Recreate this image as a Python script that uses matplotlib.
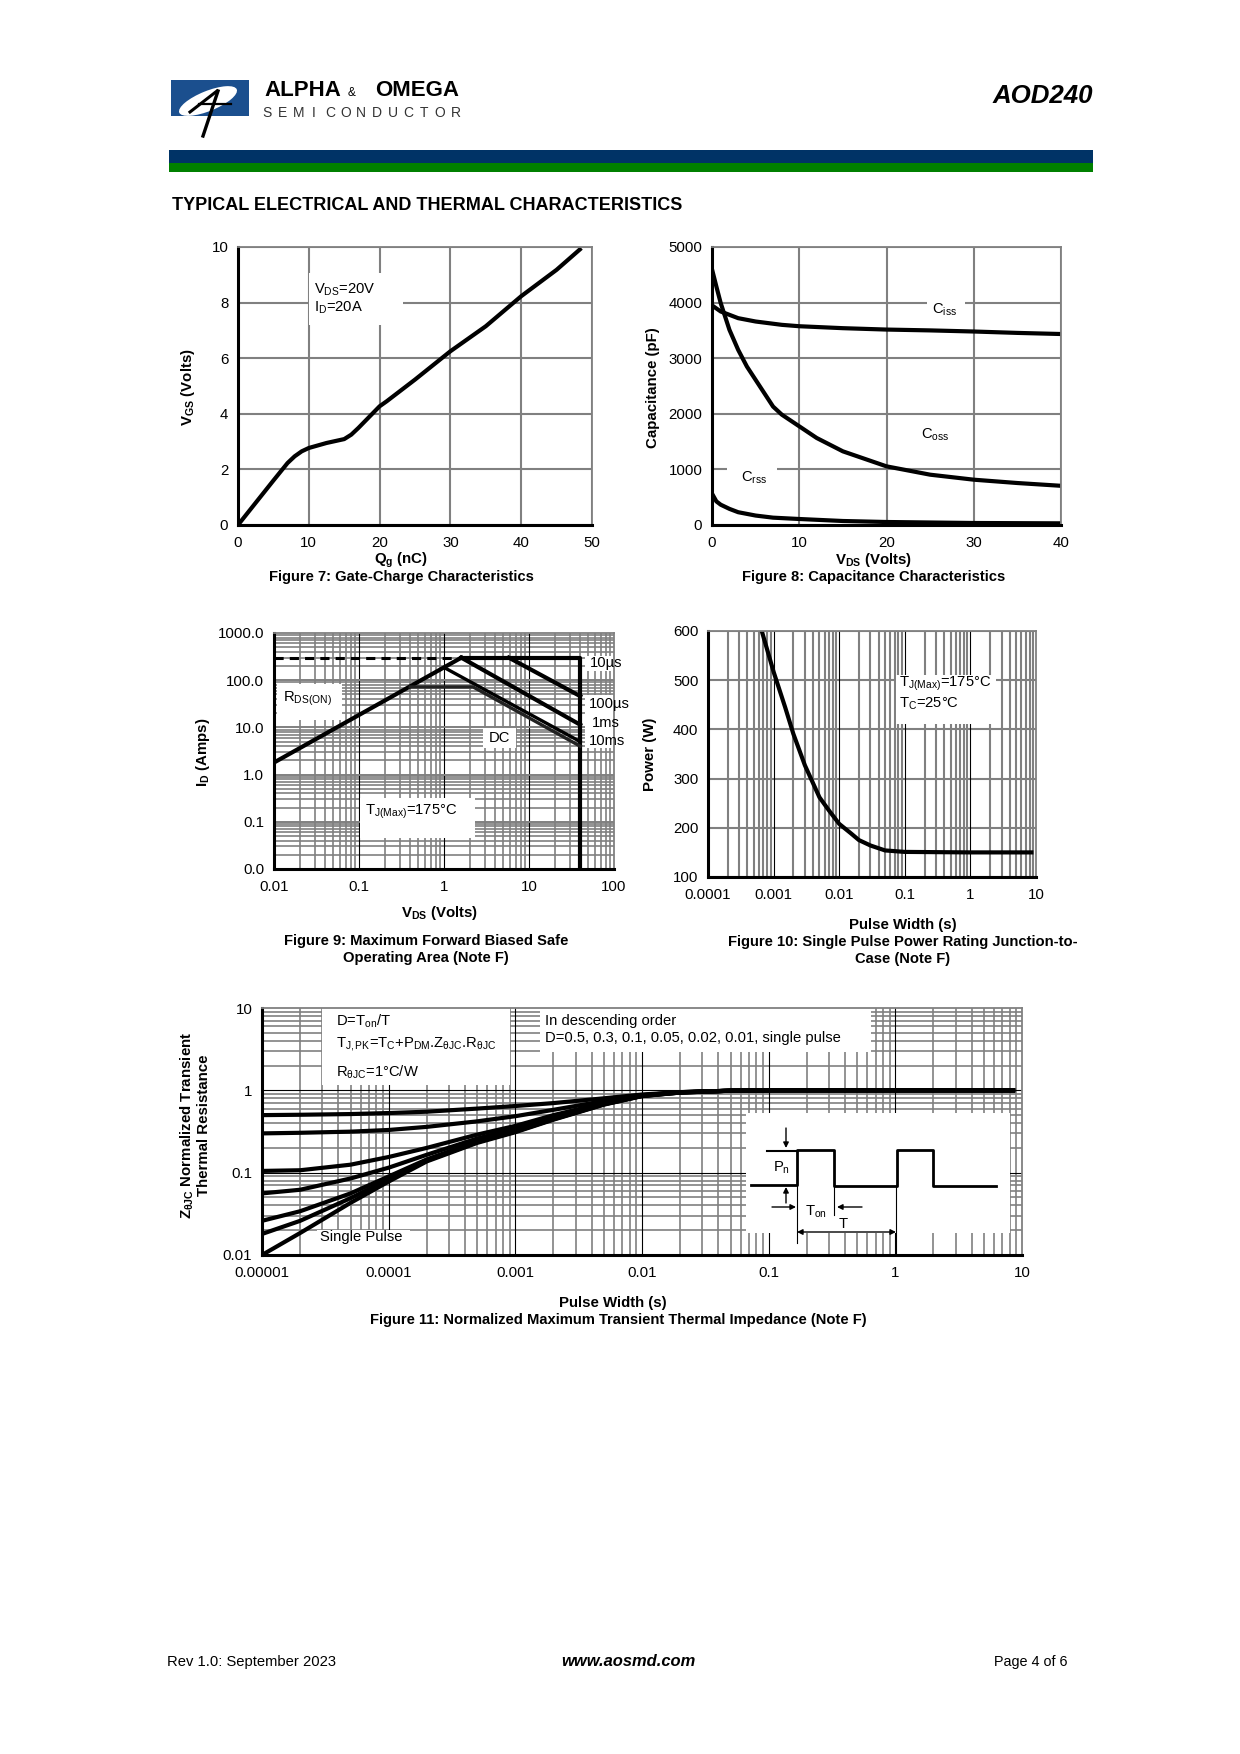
import numpy as np
import matplotlib
matplotlib.use('Agg')
import matplotlib.pyplot as plt
from matplotlib.patches import Rectangle, Ellipse
from matplotlib.ticker import NullFormatter, NullLocator

plt.rcParams['font.family'] = ['Liberation Sans', 'DejaVu Sans']
plt.rcParams['mathtext.fontset'] = 'custom'
plt.rcParams['mathtext.rm'] = 'Liberation Sans'
plt.rcParams['mathtext.it'] = 'Liberation Sans:italic'
plt.rcParams['mathtext.bf'] = 'Liberation Sans:bold'

# ---------------- data ----------------
# Figure 7: gate charge
qg = [0, 2, 5, 7, 8, 9, 10, 12.5, 15, 16, 17, 20, 21, 25, 30, 35, 40, 45, 48.5]
vgs = [0, 0.64, 1.6, 2.23, 2.47, 2.65, 2.77, 2.95, 3.09, 3.25, 3.49, 4.27, 4.45, 5.23, 6.25, 7.15, 8.23, 9.18, 9.96]

# Figure 8: capacitance
ciss_v = [0, 1, 3, 5, 8, 10, 15, 20, 25, 30, 35, 40]
ciss = [3950, 3840, 3720, 3660, 3600, 3575, 3540, 3515, 3500, 3480, 3455, 3435]
coss_v = [0, 0.5, 1, 2, 3, 4, 5, 6, 7, 8, 10, 12, 15, 20, 25, 30, 35, 40]
coss = [4600, 4290, 3990, 3510, 3150, 2850, 2610, 2370, 2130, 1985, 1775, 1565, 1325, 1055, 905, 815, 755, 705]
crss_v = [0, 0.5, 1, 2, 3, 5, 7, 10, 15, 20, 30, 40]
crss = [565, 425, 365, 290, 230, 170, 132, 108, 72, 54, 36, 30]

# Figure 9: safe operating area
rds_v = [0.01, 1.6]
rds_i = [1.8, 300]
ilim_v = [0.01, 1.6]
ilim_i = [300, 300]
us10_v = [1.6, 40, 40]
us10_i = [300, 300, 0.01]
us100_v = [5.8, 40]
us100_i = [300, 46]
ms1_v = [1.6, 40]
ms1_i = [300, 11.4]
ms10_v = [1.03, 40]
ms10_i = [181, 5.0]
dc_v = [0.4, 2.2, 40]
dc_i = [72, 72, 4.0]

# Figure 10: single pulse power
pw = [6.6e-4, 1e-3, 1.5e-3, 2e-3, 3e-3, 5e-3, 7e-3, 1e-2, 1.5e-2, 2e-2, 3e-2, 5e-2, 0.1, 1, 8.5]
ppk = [600, 517, 445, 391, 327, 262, 235, 208, 189, 175, 164, 154, 151, 150, 150]

# Figure 11: transient thermal impedance
zt = [1e-5, 2e-5, 5e-5, 1e-4, 2e-4, 5e-4, 1e-3, 2e-3, 5e-3, 1e-2, 2e-2, 5e-2, 0.1, 1, 8.5]
z_d05 = [0.50, 0.505, 0.515, 0.53, 0.55, 0.60, 0.645, 0.70, 0.80, 0.89, 0.95, 0.99, 1.0, 1.0, 1.0]
z_d03 = [0.30, 0.305, 0.315, 0.33, 0.36, 0.42, 0.485, 0.58, 0.74, 0.87, 0.95, 0.99, 1.0, 1.0, 1.0]
z_d01 = [0.105, 0.107, 0.125, 0.155, 0.20, 0.29, 0.37, 0.50, 0.70, 0.87, 0.95, 0.99, 1.0, 1.0, 1.0]
z_d005 = [0.056, 0.062, 0.085, 0.115, 0.165, 0.26, 0.34, 0.47, 0.69, 0.86, 0.945, 0.99, 1.0, 1.0, 1.0]
z_d002 = [0.026, 0.034, 0.056, 0.09, 0.145, 0.24, 0.32, 0.45, 0.68, 0.855, 0.94, 0.99, 1.0, 1.0, 1.0]
z_d001 = [0.018, 0.026, 0.049, 0.083, 0.14, 0.235, 0.315, 0.445, 0.675, 0.855, 0.94, 0.99, 1.0, 1.0, 1.0]
z_single = [0.010, 0.0185, 0.043, 0.078, 0.137, 0.23, 0.31, 0.44, 0.67, 0.85, 0.94, 0.99, 1.0, 1.0, 1.0]
z_curves = [z_d05, z_d03, z_d01, z_d005, z_d002, z_d001, z_single]

# ---------------- page layout ----------------
W, H = 1240, 1754
fig = plt.figure(figsize=(W / 100, H / 100), dpi=100)
GRAY = '#808080'
FS = 10.8      # tick labels and axis labels
TS = 10.6      # text inside the plots
CS = 10.6      # captions
LW = 3.0


def ax_at(l, t, r, b):
    return fig.add_axes([l / W, 1 - b / H, (r - l) / W, (b - t) / H])


def style(ax, xpad=8, ypad=7):
    ax.set_axisbelow(True)
    for s in ['top', 'right']:
        ax.spines[s].set_color(GRAY)
        ax.spines[s].set_linewidth(1.3)
    for s in ['left', 'bottom']:
        ax.spines[s].set_color('black')
        ax.spines[s].set_linewidth(2.2)
    ax.tick_params(which='both', length=0, labelsize=FS)
    ax.tick_params(axis='x', pad=xpad)
    ax.tick_params(axis='y', pad=ypad)


def white_box(ax, x0, x1, y0, y1):
    ax.add_patch(Rectangle((x0, y0), x1 - x0, y1 - y0, facecolor='white',
                           edgecolor='none', zorder=1.5, clip_on=False))


def log_grid(ax, axis, lo, hi, major_color, major_lw, minor_lw=1.2):
    decs = range(int(np.floor(np.log10(lo))), int(np.ceil(np.log10(hi))))
    minors = [m * 10.0 ** d for d in decs for m in range(2, 10)]
    majors = [10.0 ** d for d in range(int(np.log10(lo)) + 1, int(np.log10(hi)))]
    line = ax.axvline if axis == 'x' else ax.axhline
    for v in minors:
        line(v, color=GRAY, lw=minor_lw, zorder=0.5)
    for v in majors:
        line(v, color=major_color, lw=major_lw, zorder=0.6)


# ---------- Figure 7 ----------
ax7 = ax_at(238, 247, 592, 525)
style(ax7)
ax7.set_xlim(0, 50)
ax7.set_ylim(0, 10)
ax7.set_xticks([0, 10, 20, 30, 40, 50])
ax7.set_yticks([0, 2, 4, 6, 8, 10])
ax7.grid(True, color=GRAY, lw=1.5)
ax7.plot(qg, vgs, color='black', lw=LW, solid_capstyle='butt')
white_box(ax7, 9.96, 23.3, 7.2, 9.06)
ax7.text(10.7, 8.47, r'V$_{\rm DS}$=20V', fontsize=TS, va='center', zorder=3)
ax7.text(10.7, 7.8, r'I$_{\rm D}$=20A', fontsize=TS, va='center', zorder=3)

# ---------- Figure 8 ----------
ax8 = ax_at(712, 247, 1061, 525)
style(ax8)
ax8.set_xlim(0, 40)
ax8.set_ylim(0, 5000)
ax8.set_xticks([0, 10, 20, 30, 40])
ax8.set_yticks([0, 1000, 2000, 3000, 4000, 5000])
ax8.grid(True, color=GRAY, lw=1.5)
ax8.plot(ciss_v, ciss, color='black', lw=LW)
ax8.plot(coss_v, coss, color='black', lw=LW)
ax8.plot(crss_v, crss, color='black', lw=LW)
white_box(ax8, 24.6, 29.0, 3663, 4143)
white_box(ax8, 1.7, 7.4, 515, 1115)
ax8.text(25.2, 3873, r'C$_{\rm iss}$', fontsize=TS, va='center', zorder=3)
ax8.text(24.0, 1625, r'C$_{\rm oss}$', fontsize=TS, va='center', zorder=3)
ax8.text(3.36, 845, r'C$_{\rm rss}$', fontsize=TS, va='center', zorder=3)

# ---------- Figure 9 ----------
ax9 = ax_at(274, 633, 614, 869)
style(ax9)
ax9.set_xscale('log')
ax9.set_yscale('log')
ax9.set_xlim(0.01, 100)
ax9.set_ylim(0.01, 1000)
for a in (ax9.xaxis, ax9.yaxis):
    a.set_minor_locator(NullLocator())
    a.set_minor_formatter(NullFormatter())
ax9.set_xticks([0.01, 0.1, 1, 10, 100])
ax9.set_xticklabels(['0.01', '0.1', '1', '10', '100'])
ax9.set_yticks([0.01, 0.1, 1, 10, 100, 1000])
ax9.set_yticklabels(['0.0', '0.1', '1.0', '10.0', '100.0', '1000.0'])
log_grid(ax9, 'x', 0.01, 100, 'black', 0.8)
log_grid(ax9, 'y', 0.01, 1000, GRAY, 1.4)
ax9.plot(rds_v, rds_i, color='black', lw=LW)
ax9.plot(ilim_v, ilim_i, color='black', lw=2.2, ls=(0, (3, 2)))
ax9.plot(us10_v, us10_i, color='black', lw=LW)
ax9.plot(us100_v, us100_i, color='black', lw=LW)
ax9.plot(ms1_v, ms1_i, color='black', lw=LW)
ax9.plot(ms10_v, ms10_i, color='black', lw=2.4)
ax9.plot(dc_v, dc_i, color='#222222', lw=2.4)
white_box(ax9, 0.0109, 0.0625, 14.5, 84)
white_box(ax9, 2.88, 7.1, 3.6, 9.6)
white_box(ax9, 0.104, 2.3, 0.0447, 0.316)
white_box(ax9, 45, 125, 154, 320)
white_box(ax9, 45.2, 140, 3.6, 49)
ax9.text(0.0129, 39.8, r'R$_{\rm DS(ON)}$', fontsize=TS, va='center', zorder=3)
ax9.text(4.5, 6.0, 'DC', fontsize=TS, va='center', ha='center', zorder=3)
ax9.text(0.118, 0.164, r'T$_{\rm J(Max)}$=175°C', fontsize=TS, va='center', zorder=3)
ax9.text(52.7, 231, '10µs', fontsize=TS, va='center', zorder=3, clip_on=False)
ax9.text(50, 31.2, '100µs', fontsize=TS, va='center', zorder=3, clip_on=False)
ax9.text(54.5, 12.3, '1ms', fontsize=TS, va='center', zorder=3, clip_on=False)
ax9.text(50, 5.2, '10ms', fontsize=TS, va='center', zorder=3, clip_on=False)

# ---------- Figure 10 ----------
ax10 = ax_at(708, 631, 1036, 877)
style(ax10)
ax10.set_xscale('log')
ax10.set_xlim(1e-4, 10)
ax10.set_ylim(100, 600)
ax10.xaxis.set_minor_locator(NullLocator())
ax10.xaxis.set_minor_formatter(NullFormatter())
ax10.set_xticks([1e-4, 1e-3, 1e-2, 0.1, 1, 10])
ax10.set_xticklabels(['0.0001', '0.001', '0.01', '0.1', '1', '10'])
ax10.set_yticks([100, 200, 300, 400, 500, 600])
ax10.yaxis.grid(True, color=GRAY, lw=1.5)
log_grid(ax10, 'x', 1e-4, 10, 'black', 0.8, minor_lw=1.5)
ax10.plot(pw, ppk, color='black', lw=LW)
white_box(ax10, 0.0729, 2.49, 411.6, 509.9)
ax10.text(0.0819, 493, r'T$_{\rm J(Max)}$=175°C', fontsize=TS, va='center', zorder=3)
ax10.text(0.0819, 452, r'T$_{\rm C}$=25°C', fontsize=TS, va='center', zorder=3)

# ---------- Figure 11 ----------
ax11 = ax_at(262, 1008, 1022, 1255)
style(ax11)
ax11.set_xscale('log')
ax11.set_yscale('log')
ax11.set_xlim(1e-5, 10)
ax11.set_ylim(0.01, 10)
for a in (ax11.xaxis, ax11.yaxis):
    a.set_minor_locator(NullLocator())
    a.set_minor_formatter(NullFormatter())
ax11.set_xticks([1e-5, 1e-4, 1e-3, 1e-2, 0.1, 1, 10])
ax11.set_xticklabels(['0.00001', '0.0001', '0.001', '0.01', '0.1', '1', '10'])
ax11.set_yticks([0.01, 0.1, 1, 10])
ax11.set_yticklabels(['0.01', '0.1', '1', '10'])
log_grid(ax11, 'x', 1e-5, 10, 'black', 0.8)
log_grid(ax11, 'y', 0.01, 10, 'black', 0.8)
for z in z_curves:
    ax11.plot(zt, z, color='black', lw=LW)
white_box(ax11, 2.96e-5, 9.04e-4, 1.17, 10)
white_box(ax11, 1.58e-3, 0.645, 2.94, 10)
white_box(ax11, 2.73e-5, 1.47e-4, 0.01, 0.0203)
white_box(ax11, 0.066, 8.05, 0.0186, 0.534)
ax11.text(3.87e-5, 6.89, r'D=T$_{\rm on}$/T', fontsize=TS, va='center', zorder=3)
ax11.text(3.87e-5, 3.65, r'T$_{\rm J,PK}$=T$_{\rm C}$+P$_{\rm DM}$.Z$_{\rm \theta JC}$.R$_{\rm \theta JC}$',
          fontsize=TS, va='center', zorder=3)
ax11.text(3.87e-5, 1.65, r'R$_{\rm \theta JC}$=1°C/W', fontsize=TS, va='center', zorder=3)
ax11.text(1.73e-3, 7.0, 'In descending order', fontsize=TS, va='center', zorder=3)
ax11.text(1.73e-3, 4.32, 'D=0.5, 0.3, 0.1, 0.05, 0.02, 0.01, single pulse', fontsize=TS,
          va='center', zorder=3)
ax11.text(2.87e-5, 0.0164, 'Single Pulse', fontsize=TS, va='center', zorder=3)

# ---------------- overlay for page decorations ----------------
ov = fig.add_axes([0, 0, 1, 1])
ov.set_xlim(0, W)
ov.set_ylim(H, 0)
ov.axis('off')
ov.patch.set_alpha(0)

# logo
ov.add_patch(Rectangle((171, 80), 78, 36, facecolor='#1b4f8e', edgecolor='none'))
ov.add_patch(Ellipse((208, 101), 62, 20, angle=-22, facecolor='white', edgecolor='none'))
ov.plot([190, 217], [112, 91], color='black', lw=2.2)
ov.plot([218, 203], [91, 136], color='black', lw=2.4)
ov.plot([199, 231], [104, 104], color='black', lw=1.6)
ov.text(264, 96, 'ALPHA', fontsize=16, fontweight='bold', va='baseline')
ov.text(352, 96, '&', fontsize=8.5, va='baseline', ha='center')
ov.text(459, 96, 'OMEGA', fontsize=16, fontweight='bold', va='baseline', ha='right')
for k, ch in enumerate('SEMICONDUCTOR'):
    ov.text(267 + k * 15.7, 117, ch, fontsize=10, va='baseline', ha='center', color='#333333')
ov.text(1093, 103, 'AOD240', fontsize=18.6, fontweight='bold', style='italic', ha='right',
        va='baseline')

# header bars
ov.add_patch(Rectangle((169, 150), 924, 13, facecolor='#003366', edgecolor='none'))
ov.add_patch(Rectangle((169, 163), 924, 9, facecolor='#008000', edgecolor='none'))
ov.text(172, 205, 'TYPICAL ELECTRICAL AND THERMAL CHARACTERISTICS', fontsize=13,
        fontweight='bold', va='center')

# axis labels and captions
lab = dict(fontsize=FS, fontweight='bold', ha='center', va='center')
cap = dict(fontsize=CS, fontweight='bold', ha='center', va='center')
ov.text(188, 387, r'V$_{\mathbf{GS}}$ (Volts)', rotation=90, **lab)
ov.text(401, 560, r'Q$_{\mathbf{g}}$ (nC)', **lab)
ov.text(401, 577, 'Figure 7: Gate-Charge Characteristics', **cap)

ov.text(653, 388, 'Capacitance (pF)', rotation=90, **lab)
ov.text(874, 560, r'V$_{\mathbf{DS}}$ (Volts)', **lab)
ov.text(874, 577, 'Figure 8: Capacitance Characteristics', **cap)

ov.text(203, 752, r'I$_{\mathbf{D}}$ (Amps)', rotation=90, **lab)
ov.text(440, 913, r'V$_{\mathbf{DS}}$ (Volts)', **lab)
ov.text(426, 941, 'Figure 9: Maximum Forward Biased Safe', **cap)
ov.text(426, 958, 'Operating Area (Note F)', **cap)

ov.text(650, 754, 'Power (W)', rotation=90, **lab)
ov.text(903, 925, 'Pulse Width (s)', **lab)
ov.text(903, 942, 'Figure 10: Single Pulse Power Rating Junction-to-', **cap)
ov.text(903, 959, 'Case (Note F)', **cap)

ov.text(187, 1125, r'Z$_{\mathbf{\theta JC}}$ Normalized Transient', rotation=90, **lab)
ov.text(204, 1125, 'Thermal Resistance', rotation=90, **lab)
ov.text(613, 1303, 'Pulse Width (s)', **lab)
ov.text(618, 1320, 'Figure 11: Normalized Maximum Transient Thermal Impedance (Note F)', **cap)

# duty-cycle sketch inside figure 11
ov.plot([751, 797, 797, 834, 834, 897, 897, 933, 933, 996],
        [1185, 1185, 1150, 1150, 1186, 1186, 1150, 1150, 1186, 1186], color='black', lw=2.0)
ov.plot([767, 797], [1151, 1151], color='black', lw=1.5)
ov.plot([797, 797], [1186, 1243], color='black', lw=0.8)
ov.plot([834, 834], [1186, 1215], color='black', lw=0.8)
ov.plot([896, 896], [1186, 1255], color='black', lw=0.8)
arr = dict(arrowstyle='-|>', color='black', lw=1.0, mutation_scale=8, shrinkA=0, shrinkB=0)
ov.annotate('', xy=(786, 1148), xytext=(786, 1128), arrowprops=arr)
ov.annotate('', xy=(786, 1187), xytext=(786, 1203), arrowprops=arr)
ov.annotate('', xy=(796, 1207), xytext=(772, 1207), arrowprops=arr)
ov.annotate('', xy=(837, 1207), xytext=(862, 1207), arrowprops=arr)
ov.annotate('', xy=(896, 1232), xytext=(797, 1232),
            arrowprops=dict(arrowstyle='<|-|>', color='black', lw=1.0, mutation_scale=8,
                            shrinkA=0, shrinkB=0))
ov.text(773, 1168, r'P$_{\rm n}$', fontsize=TS, va='center')
ov.text(805, 1212, r'T$_{\rm on}$', fontsize=TS, va='center')
ov.text(843, 1224, 'T', fontsize=TS, va='center', ha='center')

# footer
ov.text(167, 1662, 'Rev 1.0: September 2023', fontsize=10.6, va='center')
ov.text(628, 1662, 'www.aosmd.com', fontsize=11.9, fontweight='bold', style='italic',
        va='center', ha='center')
ov.text(1068, 1662, 'Page 4 of 6', fontsize=10.4, va='center', ha='right')

fig.savefig('out.png', dpi=100)
